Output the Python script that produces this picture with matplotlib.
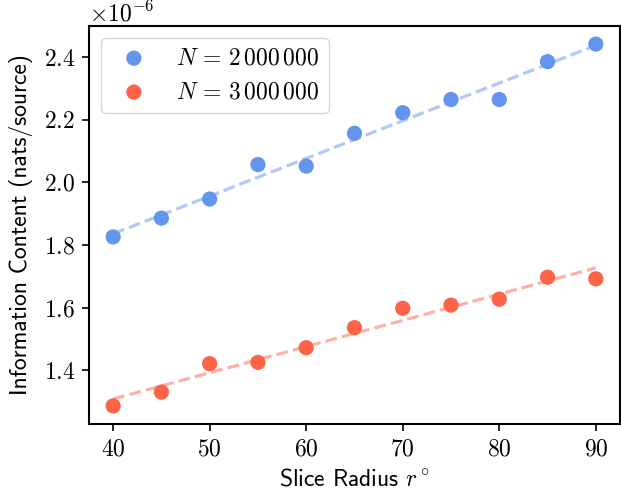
import numpy as np
import matplotlib
matplotlib.use('Agg')
import matplotlib.pyplot as plt

# 字体设置：刻度用 cmr10，数学用 cm
plt.rcParams['font.family'] = 'cmr10'
plt.rcParams['mathtext.fontset'] = 'cm'
plt.rcParams['axes.formatter.use_mathtext'] = True
plt.rcParams['font.size'] = 17
plt.rcParams['axes.linewidth'] = 1.5
for a in ['xtick', 'ytick']:
    plt.rcParams[a + '.major.size'] = 5
    plt.rcParams[a + '.major.width'] = 1.2
    plt.rcParams[a + '.major.pad'] = 5

# 数据
radius = [40, 45, 50, 55, 60, 65, 70, 75, 80, 85, 90]
info_2m = [1.826, 1.886, 1.947, 2.057, 2.052, 2.157, 2.223, 2.265, 2.265, 2.386, 2.442]
info_3m = [1.286, 1.330, 1.421, 1.425, 1.472, 1.536, 1.598, 1.608, 1.627, 1.697, 1.692]
labels = [r'$N \,=\, 2\,000\,000$', r'$N \,=\, 3\,000\,000$']
colors = ['#6495ED', '#FF6347']

fig = plt.figure(figsize=(6.21, 4.97), dpi=100)
ax = fig.add_axes([0.1433, 0.1469, 0.855, 0.8008])

x = np.array(radius, dtype=float)
for vals, lab, c in zip([info_2m, info_3m], labels, colors):
    y = np.array(vals) * 1e-6
    ax.scatter(x, y, s=120, color=c, label=lab, zorder=3, edgecolors='none')
    # 线性拟合
    k, b = np.polyfit(x, y, 1)
    ax.plot(x, k * x + b, '--', color=c, alpha=0.5, lw=2.3, zorder=2)

ax.set_xlabel(r'Slice Radius $r^\circ$', fontfamily='cmss10', labelpad=6)
ax.set_ylabel('Information Content (nats/source)', fontfamily='cmss10', labelpad=8)
ax.legend(loc='upper left', fontsize=17)

fig.savefig('out.png', dpi=100)
